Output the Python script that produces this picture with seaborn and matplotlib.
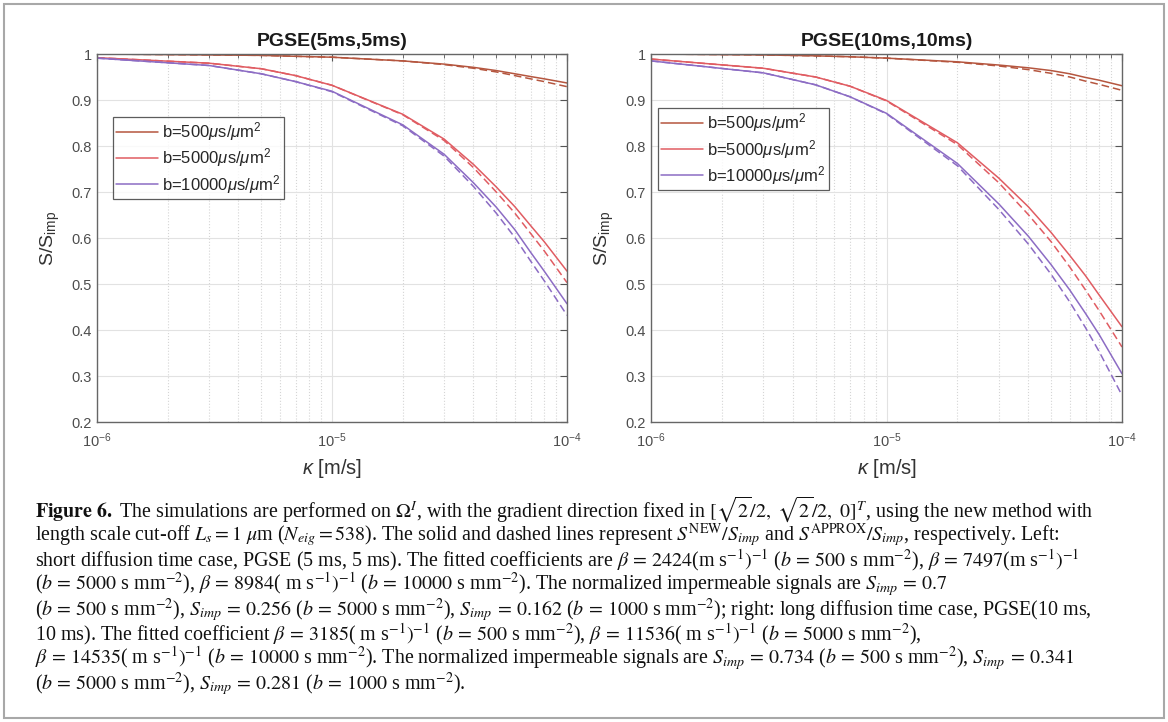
import numpy as np
import pandas as pd
import matplotlib
matplotlib.use("Agg")
import matplotlib.pyplot as plt
from matplotlib.patches import Rectangle
import seaborn as sns

# kappa values [m/s]
kappa = [1e-6, 3e-6, 5e-6, 7e-6, 1e-5, 2e-5, 3e-5, 4e-5, 5e-5, 6e-5, 7e-5, 8e-5, 1e-4]

# PGSE(5ms,5ms): solid = S_NEW/S_imp, dashed = S_APPROX/S_imp
short_new_500 = [1.000, 0.998, 0.997, 0.995, 0.993, 0.985, 0.978, 0.971, 0.964, 0.957, 0.951, 0.946, 0.937]
short_apx_500 = [1.000, 0.998, 0.997, 0.995, 0.993, 0.985, 0.977, 0.969, 0.961, 0.953, 0.946, 0.940, 0.929]
short_new_5000 = [0.992, 0.980, 0.968, 0.953, 0.932, 0.869, 0.815, 0.760, 0.711, 0.668, 0.627, 0.592, 0.528]
short_apx_5000 = [0.992, 0.980, 0.968, 0.953, 0.932, 0.868, 0.812, 0.753, 0.700, 0.654, 0.610, 0.572, 0.503]
short_new_10000 = [0.991, 0.975, 0.957, 0.940, 0.919, 0.846, 0.782, 0.720, 0.667, 0.618, 0.569, 0.528, 0.457]
short_apx_10000 = [0.991, 0.975, 0.957, 0.940, 0.918, 0.844, 0.778, 0.712, 0.654, 0.601, 0.550, 0.507, 0.432]

# PGSE(10ms,10ms)
long_new_500 = [1.000, 0.998, 0.996, 0.994, 0.991, 0.983, 0.976, 0.970, 0.964, 0.957, 0.949, 0.943, 0.931]
long_apx_500 = [1.000, 0.998, 0.996, 0.994, 0.991, 0.982, 0.974, 0.966, 0.958, 0.950, 0.941, 0.934, 0.921]
long_new_5000 = [0.989, 0.969, 0.950, 0.930, 0.899, 0.807, 0.730, 0.668, 0.612, 0.562, 0.518, 0.476, 0.407]
long_apx_5000 = [0.989, 0.969, 0.950, 0.930, 0.898, 0.803, 0.720, 0.651, 0.592, 0.537, 0.487, 0.442, 0.363]
long_new_10000 = [0.985, 0.959, 0.933, 0.907, 0.871, 0.762, 0.674, 0.604, 0.542, 0.487, 0.436, 0.390, 0.305]
long_apx_10000 = [0.985, 0.959, 0.933, 0.907, 0.870, 0.757, 0.662, 0.587, 0.521, 0.461, 0.405, 0.353, 0.258]

b_labels = [r"b=500$\mu$s/$\mu$m$^2$", r"b=5000$\mu$s/$\mu$m$^2$", r"b=10000$\mu$s/$\mu$m$^2$"]
colors = ["#b5563f", "#e05c62", "#8c6cc4"]
titles = ["PGSE(5ms,5ms)", "PGSE(10ms,10ms)"]
ytick_vals = [0.2, 0.3, 0.4, 0.5, 0.6, 0.7, 0.8, 0.9, 1.0]
ytick_labels = ["0.2", "0.3", "0.4", "0.5", "0.6", "0.7", "0.8", "0.9", "1"]

caption_lines = [
    r"$\mathbf{Figure\ 6.}$ The simulations are performed on $\Omega^I$, with the gradient direction fixed in $[\sqrt{2}/2,\ \sqrt{2}/2,\ 0]^T$, using the new method with",
    r"length scale cut-off $L_s = 1\ \mu$m ($N_{eig} = 538$). The solid and dashed lines represent $S^{\rm NEW}/S_{imp}$ and $S^{\rm APPROX}/S_{imp}$, respectively. Left:",
    r"short diffusion time case, PGSE (5 ms, 5 ms). The fitted coefficients are $\beta\,=\,2424$(m s$^{-1})^{-1}$ ($b\,=\,500$ s mm$^{-2}$), $\beta\,=\,7497$(m s$^{-1})^{-1}$",
    r"($b\,=\,5000$ s mm$^{-2}$), $\beta\,=\,8984$( m s$^{-1})^{-1}$ ($b\,=\,10000$ s mm$^{-2}$). The normalized impermeable signals are $S_{imp}\,=\,0.7$",
    r"($b\,=\,500$ s mm$^{-2}$), $S_{imp}\,=\,0.256$ ($b\,=\,5000$ s mm$^{-2}$), $S_{imp}\,=\,0.162$ ($b\,=\,1000$ s mm$^{-2}$); right: long diffusion time case, PGSE(10 ms,",
    r"10 ms). The fitted coefficient $\beta\,=\,3185$( m s$^{-1})^{-1}$ ($b\,=\,500$ s mm$^{-2}$), $\beta\,=\,11536$( m s$^{-1})^{-1}$ ($b\,=\,5000$ s mm$^{-2}$),",
    r"$\beta\,=\,14535$( m s$^{-1})^{-1}$ ($b\,=\,10000$ s mm$^{-2}$). The normalized impermeable signals are $S_{imp}\,=\,0.734$ ($b\,=\,500$ s mm$^{-2}$), $S_{imp}\,=\,0.341$",
    r"($b\,=\,5000$ s mm$^{-2}$), $S_{imp}\,=\,0.281$ ($b\,=\,1000$ s mm$^{-2}$).",
]

sns.set_theme(style="white")
plt.rcParams["font.family"] = ["Liberation Sans", "DejaVu Sans"]
plt.rcParams["mathtext.fontset"] = "custom"
plt.rcParams["mathtext.rm"] = "Liberation Sans"
plt.rcParams["mathtext.it"] = "Liberation Sans:italic"
plt.rcParams["mathtext.bf"] = "Liberation Sans:bold"

panels = [
    ([short_new_500, short_new_5000, short_new_10000],
     [short_apx_500, short_apx_5000, short_apx_10000]),
    ([long_new_500, long_new_5000, long_new_10000],
     [long_apx_500, long_apx_5000, long_apx_10000]),
]

fig = plt.figure(figsize=(11.68, 7.22), dpi=100)
ax_rects = [[97 / 1168, 1 - 422 / 722, 470 / 1168, 368 / 722],
            [651 / 1168, 1 - 422 / 722, 471 / 1168, 368 / 722]]
legend_anchor = [(0.034, 0.829), (0.015, 0.853)]

for i, (news, apxs) in enumerate(panels):
    ax = fig.add_axes(ax_rects[i])
    handles = []
    for j in range(3):
        df_new = pd.DataFrame({"kappa": kappa, "S": news[j]})
        df_apx = pd.DataFrame({"kappa": kappa, "S": apxs[j]})
        sns.lineplot(data=df_apx, x="kappa", y="S", ax=ax, color=colors[j], lw=1.1)
        ax.lines[-1].set_dashes([5, 2.6])
        sns.lineplot(data=df_new, x="kappa", y="S", ax=ax, color=colors[j], lw=1.1)
        handles.append(ax.lines[-1])
    ax.set_xscale("log")
    ax.set_xlim(1e-6, 1e-4)
    ax.set_ylim(0.2, 1.0)
    ax.set_yticks(ytick_vals)
    ax.set_yticklabels(ytick_labels)
    ax.set_xticks([1e-6, 1e-5, 1e-4])
    ax.tick_params(which="both", direction="in", top=True, right=True,
                   colors="#555555", labelcolor="#4d4d4d", labelsize=10.5)
    ax.tick_params(which="major", length=5, width=0.8)
    ax.tick_params(which="minor", length=3, width=0.6)
    ax.tick_params(axis="x", which="major", pad=7)
    ax.grid(which="major", color="#e2e2e2", lw=0.8, ls="-")
    ax.grid(which="minor", axis="x", color="#d5d5d5", lw=0.8, ls=":")
    ax.set_axisbelow(True)
    for sp in ax.spines.values():
        sp.set_color("#666666")
        sp.set_linewidth(1.0)
    ax.set_title(titles[i], fontsize=14, fontweight="bold", color="#1a1a1a", pad=6)
    ax.set_xlabel(r"$\kappa$ [m/s]", fontsize=14.5, color="#333333")
    ax.set_ylabel(r"S/S$_{\rm imp}$", fontsize=14, color="#333333")
    ax.xaxis.set_label_coords(0.5, -0.095)
    ax.yaxis.set_label_coords(-0.075, 0.5)
    leg = ax.legend(handles, b_labels, loc="upper left", bbox_to_anchor=legend_anchor[i],
                    borderaxespad=0, fontsize=12, frameon=True, fancybox=False,
                    handlelength=2.5, handletextpad=0.25, labelspacing=0.2,
                    borderpad=0.2)
    leg.get_frame().set_edgecolor("#333333")
    leg.get_frame().set_linewidth(0.9)
    for t in leg.get_texts():
        t.set_color("#262626")

# caption as one multi-line text block (baseline anchors the last line)
fig.text(35 / 1168, 1 - 689 / 722, "\n".join(caption_lines), fontsize=14.4,
         family="Liberation Serif", math_fontfamily="stix", color="#111111",
         ha="left", va="baseline", linespacing=0.867)

fig.patches.append(Rectangle((4 / 1168, 4 / 722), 1160 / 1168, 714 / 722,
                             transform=fig.transFigure, fill=False,
                             edgecolor="#a8a8a8", lw=1.5))

fig.savefig("out.png", dpi=100)
